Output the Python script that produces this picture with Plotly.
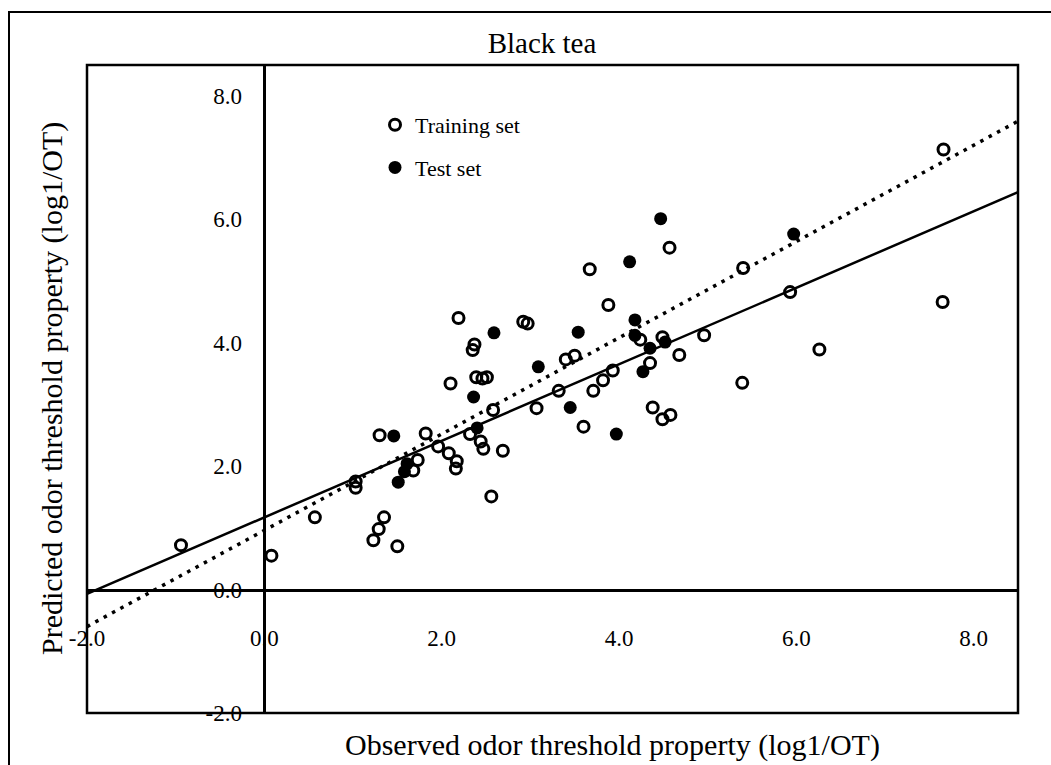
import plotly.graph_objects as go

# ---------------- data ----------------
train_x = [-0.94, 0.08, 0.57, 1.03, 1.03, 1.30, 1.82, 1.96, 1.73, 1.68,
           1.35, 1.29, 1.23, 1.50, 3.88, 2.19, 2.92, 2.97, 4.24, 4.49,
           4.96, 4.68, 4.35, 2.37, 2.35, 3.40, 3.50, 2.10, 2.39, 2.46,
           2.51, 3.93, 3.82, 3.71, 3.32, 2.58, 3.07, 4.38, 4.58, 4.49,
           3.60, 2.32, 2.08, 2.17, 2.16, 2.44, 2.47, 2.69, 2.56, 7.66,
           7.65, 6.26, 4.57, 5.40, 5.93, 5.39, 3.67]
train_y = [0.72, 0.55, 1.17, 1.65, 1.75, 2.50, 2.53, 2.32, 2.10, 1.93,
           1.17, 0.98, 0.80, 0.70, 4.61, 4.40, 4.34, 4.31, 4.05, 4.09,
           4.12, 3.80, 3.67, 3.97, 3.88, 3.73, 3.79, 3.34, 3.44, 3.42,
           3.44, 3.55, 3.39, 3.22, 3.22, 2.91, 2.94, 2.95, 2.83, 2.76,
           2.64, 2.52, 2.21, 2.08, 1.96, 2.40, 2.28, 2.25, 1.51, 7.13,
           4.66, 3.89, 5.54, 5.21, 4.82, 3.35, 5.19]

test_x = [1.46, 1.61, 1.58, 1.51, 2.59, 3.54, 4.18, 4.18, 4.52, 4.35,
          4.27, 3.09, 2.36, 3.45, 3.97, 2.40, 4.47, 4.12, 5.97]
test_y = [2.49, 2.04, 1.91, 1.74, 4.16, 4.17, 4.37, 4.12, 4.01, 3.91,
          3.53, 3.61, 3.12, 2.95, 2.52, 2.62, 6.01, 5.31, 5.76]

# regression lines: [slope, intercept]
solid_fit = [0.62, 1.17]
dotted_fit = [0.78, 0.96]

x_range = [-2.0, 8.5]
y_range = [-2.0, 8.5]
tick_vals = [-2, 0, 2, 4, 6, 8]
tick_text = ["-2.0", "0.0", "2.0", "4.0", "6.0", "8.0"]

series_names = ["Training set", "Test set"]
title_text = "Black tea"
x_title = "Observed odor threshold property (log1/OT)"
y_title = "Predicted odor threshold property (log1/OT)"

# ---------------- figure ----------------
FONT = "Liberation Serif, Times New Roman, serif"
W, H = 1051, 765
ML, MR, MT, MB = 87, 33, 65, 52
PW, PH = W - ML - MR, H - MT - MB


def px_x(p):
    return (p - ML) / PW


def px_y(p):
    return (H - MB - p) / PH


line_x = [x_range[0], x_range[1]]

fig = go.Figure()

fig.add_trace(go.Scatter(
    x=line_x, y=[solid_fit[0] * v + solid_fit[1] for v in line_x],
    mode="lines", line=dict(color="black", width=2.5),
    showlegend=False, hoverinfo="skip"))

fig.add_trace(go.Scatter(
    x=line_x, y=[dotted_fit[0] * v + dotted_fit[1] for v in line_x],
    mode="lines", line=dict(color="black", width=3.5, dash="3.5px,6px"),
    showlegend=False, hoverinfo="skip"))

fig.add_trace(go.Scatter(
    x=train_x, y=train_y, mode="markers", name=series_names[0],
    legendgroup="a",
    marker=dict(symbol="circle-open", size=11, color="black",
                line=dict(width=3, color="black"))))

fig.add_trace(go.Scatter(
    x=test_x, y=test_y, mode="markers", name=series_names[1],
    legendgroup="b",
    marker=dict(symbol="circle", size=13, color="black",
                line=dict(width=0))))

x_zero_pos = (0 - y_range[0]) / (y_range[1] - y_range[0])
y_zero_pos = (0 - x_range[0]) / (x_range[1] - x_range[0])

axis_common = dict(
    tickvals=tick_vals, ticktext=tick_text, showgrid=False, zeroline=False,
    showline=True, linecolor="black", linewidth=2.5, ticks="",
    tickfont=dict(family=FONT, size=23, color="black"), anchor="free",
)

fig.update_layout(
    width=W, height=H,
    margin=dict(l=ML, r=MR, t=MT, b=MB),
    paper_bgcolor="white", plot_bgcolor="white",
    font=dict(family=FONT, color="black"),
    title=dict(text=title_text, x=542 / W, xanchor="center",
               y=1 - 43 / H, yanchor="middle",
               font=dict(family=FONT, size=29, color="black")),
    xaxis=dict(range=x_range, position=x_zero_pos, ticklabelstandoff=27,
               **axis_common),
    yaxis=dict(range=y_range, position=y_zero_pos, ticklabelstandoff=17,
               **axis_common),
    legend=dict(x=px_x(375), y=px_y(104), xanchor="left", yanchor="top",
                bgcolor="rgba(0,0,0,0)", borderwidth=0, tracegroupgap=11,
                font=dict(family=FONT, size=22, color="black"),
                itemwidth=30),
    showlegend=True,
    annotations=[
        dict(text=x_title, xref="paper", yref="paper", x=px_x(612),
             y=px_y(745), xanchor="center", yanchor="middle",
             showarrow=False, font=dict(family=FONT, size=30, color="black")),
        dict(text=y_title, xref="paper", yref="paper", x=px_x(52), y=0.5,
             xanchor="center", yanchor="middle", textangle=-90,
             showarrow=False, font=dict(family=FONT, size=30, color="black")),
    ],
    shapes=[
        dict(type="rect", xref="paper", yref="paper", x0=0, x1=1, y0=0, y1=1,
             line=dict(color="black", width=2.5), layer="above"),
        dict(type="rect", xref="paper", yref="paper", x0=px_x(9),
             x1=px_x(1200), y0=px_y(900), y1=px_y(12),
             line=dict(color="black", width=2), layer="above"),
    ],
)

fig.write_html("out.html")
